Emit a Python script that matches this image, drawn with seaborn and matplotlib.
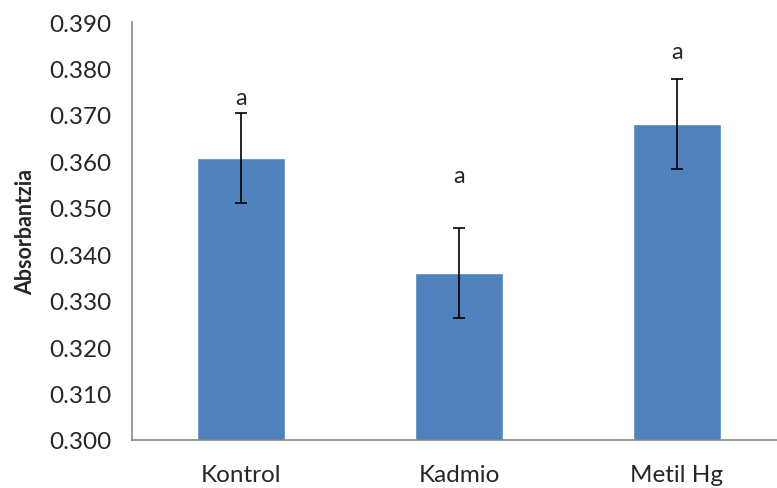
import matplotlib
matplotlib.use("Agg")
import matplotlib.pyplot as plt
import seaborn as sns
import pandas as pd

# values
groups = ["Kontrol", "Kadmio", "Metil Hg"]
means = [0.3608, 0.3360, 0.3680]
errors = [0.0097, 0.0097, 0.0097]
letters = ["a", "a", "a"]
letter_y = [0.3738, 0.3570, 0.3837]

sns.set_style("white")
plt.rcParams["font.family"] = ["Lato", "DejaVu Sans"]

df = pd.DataFrame({"grupo": groups, "absorbantzia": means})

fig = plt.figure(figsize=(7.77, 4.89), dpi=100)
ax = fig.add_axes([132 / 777, 1 - 441 / 489, (786 - 132) / 777, (441 - 23) / 489])

sns.barplot(x="grupo", y="absorbantzia", data=df, color="#4F81BD",
            width=0.4, saturation=1, errorbar=None, ax=ax)
ax.errorbar(range(len(groups)), means, yerr=errors, fmt="none",
            ecolor="black", elinewidth=1.2, capsize=4.5, capthick=1.2)

for i, (lab, y) in enumerate(zip(letters, letter_y)):
    ax.text(i, y, lab, ha="center", va="center", fontsize=17)

ax.set_ylim(0.300, 0.390)
ax.set_xlim(-0.5, 2.5)
ax.set_yticks([0.300 + 0.01 * k for k in range(10)])
ax.set_yticklabels([f"{0.300 + 0.01 * k:.3f}" for k in range(10)], fontsize=17.5)
ax.set_xticks(range(len(groups)))
ax.set_xticklabels(groups, fontsize=17.5)
ax.set_xticks([-0.5, 0.5, 1.5, 2.5], minor=True)
ax.tick_params(axis="x", which="major", length=0, pad=17)
ax.tick_params(axis="x", which="minor", length=6, color="#868686", width=1.2, direction="out")
ax.tick_params(axis="y", which="major", length=6, color="#868686", width=1.2, direction="out", pad=9)

ax.set_xlabel("")
ax.set_ylabel("Absorbantzia", fontsize=15.5, fontweight="bold", labelpad=9)

sns.despine(ax=ax, top=True, right=True)
for side in ["left", "bottom"]:
    ax.spines[side].set_color("#868686")
    ax.spines[side].set_linewidth(1.2)

fig.savefig("out.png", dpi=100)
